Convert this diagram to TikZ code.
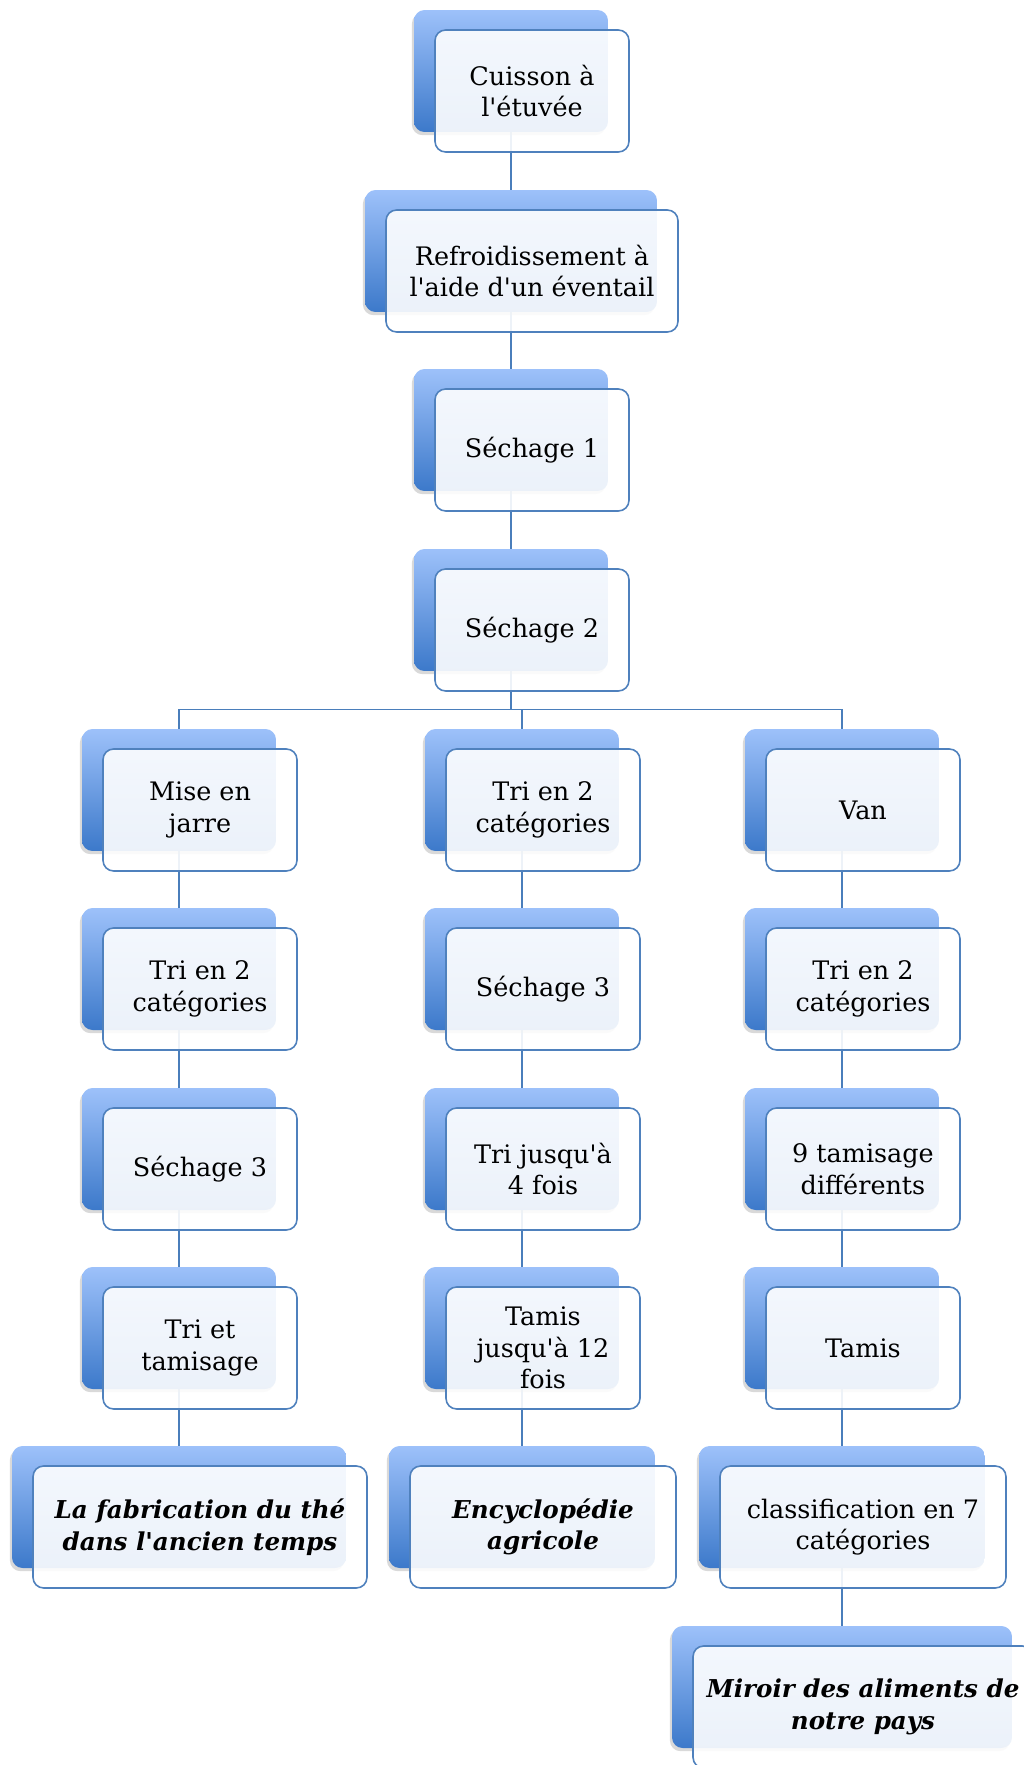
\documentclass[tikz,border=0pt]{standalone}
\usepackage{fontspec}
\setmainfont{DejaVu Serif}[Ligatures=TeXOff]
\usetikzlibrary{shadows, backgrounds}
\definecolor{tiletop}{HTML}{9DC1FA}
\definecolor{tilebottom}{HTML}{3C79CA}
\definecolor{framecolor}{HTML}{4F81BD}
\definecolor{linkcolor}{HTML}{4A7EBB}

\begin{document}
\begin{tikzpicture}[
    x=0.02cm, y=-0.02cm,
    tile/.style={rounded corners=6pt, minimum width=#1, minimum height=2.44cm,
        top color=tiletop, bottom color=tilebottom,
        drop shadow={shadow xshift=-1.2pt, shadow yshift=-1.8pt, opacity=0.3}},
    tile/.default=3.88cm,
    card/.style={rounded corners=6pt, minimum width=#1, minimum height=2.44cm,
        inner sep=2pt, draw=framecolor, line width=0.9pt,
        fill=white, fill opacity=0.9, text opacity=1,
        align=center, font=\fontsize{14.5}{17.9}\selectfont},
    card/.default=3.88cm,
    book/.style={font=\fontsize{14}{17.9}\selectfont\bfseries\itshape},
    link/.style={draw=linkcolor, line width=0.9pt}
]

    \useasboundingbox (0,0) rectangle (1024,1765);

    % Common trunk
    \node[tile] (cuisson) at (511,71) {};
    \node[card] (cuisson-f) at ([xshift=0.42cm,yshift=-0.4cm]cuisson) {Cuisson à\\l'étuvée};

    \node[tile=5.84cm] (refroid) at (511,251) {};
    \node[card=5.84cm] (refroid-f) at ([xshift=0.42cm,yshift=-0.4cm]refroid) {Refroidissement à\\l'aide d'un éventail};

    \node[tile] (sechageA) at (511,430) {};
    \node[card] (sechageA-f) at ([xshift=0.42cm,yshift=-0.4cm]sechageA) {Séchage 1};

    \node[tile] (sechageB) at (511,610) {};
    \node[card] (sechageB-f) at ([xshift=0.42cm,yshift=-0.4cm]sechageB) {Séchage 2};

    % Left branch
    \node[tile] (jarre) at (179,790) {};
    \node[card] (jarre-f) at ([xshift=0.42cm,yshift=-0.4cm]jarre) {Mise en\\jarre};

    \node[tile] (triA) at (179,969) {};
    \node[card] (triA-f) at ([xshift=0.42cm,yshift=-0.4cm]triA) {Tri en 2\\catégories};

    \node[tile] (sechageL) at (179,1149) {};
    \node[card] (sechageL-f) at ([xshift=0.42cm,yshift=-0.4cm]sechageL) {Séchage 3};

    \node[tile] (triTamis) at (179,1328) {};
    \node[card] (triTamis-f) at ([xshift=0.42cm,yshift=-0.4cm]triTamis) {Tri et\\tamisage};

    \node[tile=6.68cm] (fabrication) at (179,1507) {};
    \node[card=6.68cm, book] (fabrication-f) at ([xshift=0.42cm,yshift=-0.4cm]fabrication) {La fabrication du thé\\dans l'ancien temps};

    % Middle branch
    \node[tile] (triB) at (522,790) {};
    \node[card] (triB-f) at ([xshift=0.42cm,yshift=-0.4cm]triB) {Tri en 2\\catégories};

    \node[tile] (sechageM) at (522,969) {};
    \node[card] (sechageM-f) at ([xshift=0.42cm,yshift=-0.4cm]sechageM) {Séchage 3};

    \node[tile] (triFois) at (522,1149) {};
    \node[card] (triFois-f) at ([xshift=0.42cm,yshift=-0.4cm]triFois) {Tri jusqu'à\\4 fois};

    \node[tile] (tamisFois) at (522,1328) {};
    \node[card] (tamisFois-f) at ([xshift=0.42cm,yshift=-0.4cm]tamisFois) {Tamis\\jusqu'à 12\\fois};

    \node[tile=5.32cm] (encyclo) at (522,1507) {};
    \node[card=5.32cm, book] (encyclo-f) at ([xshift=0.42cm,yshift=-0.4cm]encyclo) {Encyclopédie\\agricole};

    % Right branch
    \node[tile] (van) at (842,790) {};
    \node[card] (van-f) at ([xshift=0.42cm,yshift=-0.4cm]van) {Van};

    \node[tile] (triC) at (842,969) {};
    \node[card] (triC-f) at ([xshift=0.42cm,yshift=-0.4cm]triC) {Tri en 2\\catégories};

    \node[tile] (neufTamis) at (842,1149) {};
    \node[card] (neufTamis-f) at ([xshift=0.42cm,yshift=-0.4cm]neufTamis) {9 tamisage\\différents};

    \node[tile] (tamis) at (842,1328) {};
    \node[card] (tamis-f) at ([xshift=0.42cm,yshift=-0.4cm]tamis) {Tamis};

    \node[tile=5.72cm] (classif) at (842,1507) {};
    \node[card=5.72cm] (classif-f) at ([xshift=0.42cm,yshift=-0.4cm]classif) {classification en 7\\catégories};

    \node[tile=6.8cm] (miroir) at (842,1687) {};
    \node[card=6.8cm, book] (miroir-f) at ([xshift=0.42cm,yshift=-0.4cm]miroir) {Miroir des aliments de\\notre pays};

    % Connectors (behind the cards)
    \begin{pgfonlayer}{background}
        \draw[link] (cuisson.south) -- (refroid.north);
        \draw[link] (refroid.south) -- (sechageA.north);
        \draw[link] (sechageA.south) -- (sechageB.north);
        \draw[link] (sechageB.south) -- ++(0,38) coordinate (hub);
        \draw[link] (jarre.north) |- (hub) -| (van.north);
        \draw[link] (triB.north) -- (triB.north |- hub);

        \draw[link] (jarre.south) -- (triA.north);
        \draw[link] (triA.south) -- (sechageL.north);
        \draw[link] (sechageL.south) -- (triTamis.north);
        \draw[link] (triTamis.south) -- (fabrication.north);

        \draw[link] (triB.south) -- (sechageM.north);
        \draw[link] (sechageM.south) -- (triFois.north);
        \draw[link] (triFois.south) -- (tamisFois.north);
        \draw[link] (tamisFois.south) -- (encyclo.north);

        \draw[link] (van.south) -- (triC.north);
        \draw[link] (triC.south) -- (neufTamis.north);
        \draw[link] (neufTamis.south) -- (tamis.north);
        \draw[link] (tamis.south) -- (classif.north);
        \draw[link] (classif.south) -- (miroir.north);
    \end{pgfonlayer}

\end{tikzpicture}
\end{document}
